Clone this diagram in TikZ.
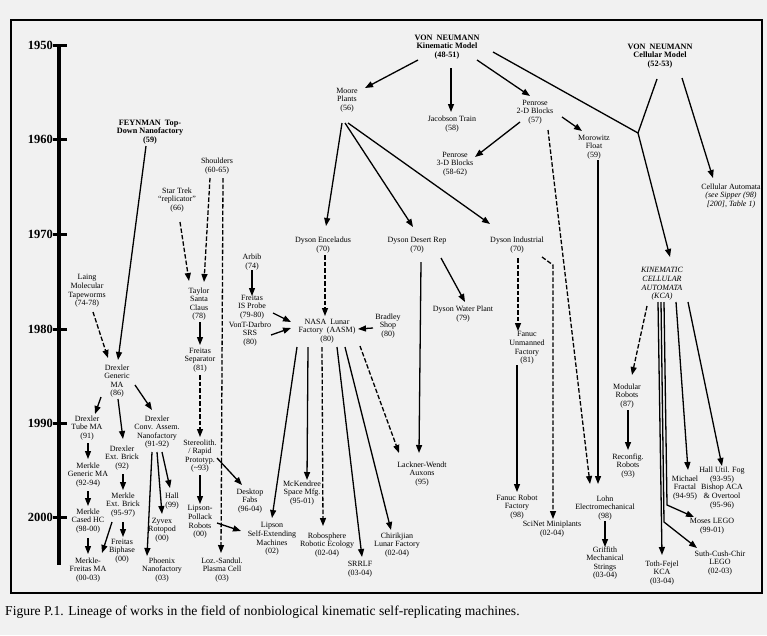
\documentclass[tikz,border=0pt]{standalone}
\usepackage{fontspec}
\setmainfont{Liberation Serif}
\usetikzlibrary{arrows.meta}
\definecolor{bgc}{HTML}{F1F1F1}
\begin{document}
\begin{tikzpicture}[x=1pt,y=-1pt,
 lbl/.style={font=\fontsize{8}{8.6}\selectfont, align=center, inner sep=0pt},
 hdr/.style={font=\bfseries\fontsize{8.2}{8.6}\selectfont, align=center, inner sep=0pt},
 arr/.style={line width=1.3pt, -{Triangle[length=8pt,width=6pt]}},
 darr/.style={arr, dash pattern=on 4.5pt off 2pt},
 ln/.style={line width=1.3pt},
 yr/.style={font=\bfseries\fontsize{12.5}{13}\selectfont, anchor=east, inner sep=0pt},
 tick/.style={line width=3pt}]
\useasboundingbox (0,0) rectangle (767,635);
\fill[bgc] (0,0) rectangle (767,635);
\draw[line width=2pt] (11,20) rectangle (762,593);

% timeline
\coordinate (tTop) at (59,44);
\coordinate (tBot) at (59,565);
\draw[line width=3.5pt] (tTop) -- (tBot);
\foreach \yv/\lab [count=\i] in {45/1950,139/1960,234/1970,329/1980,423/1990,517/2000}{
  \node[yr] (yr\i) at (53,\yv) {\lab};
  \draw[tick] (53,\yv) -- (67,\yv);
}

% nodes
\node[hdr] (vnk) at (447,47) {VON\ \ NEUMANN\\Kinematic Model\\(48-51)};
\node[hdr] (vnc) at (660,56) {VON\ \ NEUMANN\\Cellular Model\\(52-53)};
\node[lbl] (moore) at (347,100) {Moore\\Plants\\(56)};
\node[lbl] (jac) at (452,124) {Jacobson Train\\(58)};
\node[lbl] (pen2) at (535,112) {Penrose\\2-D Blocks\\(57)};
\node[lbl] (pen3) at (455,164) {Penrose\\3-D Blocks\\(58-62)};
\node[lbl] (moro) at (594,147) {Morowitz\\Float\\(59)};
\node[lbl] (ca) at (731,196) {Cellular Automata\\\textit{(see Sipper (98)}\\\textit{[200], Table 1)}};
\node[hdr] (feyn) at (150,132) {FEYNMAN\ \ Top-\\Down Nanofactory\\(59)};
\node[lbl] (shoul) at (217,166) {Shoulders\\(60-65)};
\node[lbl] (star) at (177,200) {Star Trek\\``replicator''\\(66)};
\node[lbl] (laing) at (87,291) {Laing\\Molecular\\Tapeworms\\(74-78)};
\node[lbl] (taylor) at (199,304) {Taylor\\Santa\\Claus\\(78)};
\node[lbl] (fsep) at (200,360) {Freitas\\Separator\\(81)};
\node[lbl] (dgen) at (117,381) {Drexler\\Generic\\MA\\(86)};
\node[lbl] (arbib) at (252,262) {Arbib\\(74)};
\node[lbl] (fis) at (252,307) {Freitas\\IS Probe\\(79-80)};
\node[lbl] (vont) at (250,334) {VonT-Darbro\\SRS\\(80)};
\node[lbl] (nasa) at (327,331) {NASA\ \ Lunar\\Factory\ \ (AASM)\\(80)};
\node[lbl] (brad) at (388,326) {Bradley\\Shop\\(80)};
\node[lbl] (denc) at (323,245) {Dyson Enceladus\\(70)};
\node[lbl] (ddes) at (417,245) {Dyson Desert Rep\\(70)};
\node[lbl] (dind) at (517,245) {Dyson Industrial\\(70)};
\node[lbl] (dwat) at (463,314) {Dyson Water Plant\\(79)};
\node[lbl] (fanu) at (527,348) {Fanuc\\Unmanned\\Factory\\(81)};
\node[lbl, font=\itshape\fontsize{8}{8.6}\selectfont] (kca) at (662,284) {KINEMATIC\\CELLULAR\\AUTOMATA\\(KCA)};
\node[lbl] (modr) at (627,396) {Modular\\Robots\\(87)};
\node[lbl] (reco) at (628,466) {Reconfig.\\Robots\\(93)};
\node[lbl] (frac) at (685,488) {Michael\\Fractal\\(94-95)};
\node[lbl] (hallu) at (722,488) {Hall Util. Fog\\(93-95)\\Bishop ACA\\\& Overtool\\(95-96)};
\node[lbl] (moses) at (712,526) {Moses LEGO\\(99-01)};
\node[lbl] (suth) at (720,563) {Suth-Cush-Chir\\LEGO\\(02-03)};
\node[lbl] (toth) at (662,573) {Toth-Fejel\\KCA\\(03-04)};
\node[lbl] (grif) at (605,563) {Griffith\\Mechanical\\Strings\\(03-04)};
\node[lbl] (lohn) at (605,508) {Lohn\\Electromechanical\\(98)};
\node[lbl] (scinet) at (552,529) {SciNet Miniplants\\(02-04)};
\node[lbl] (fanr) at (517,507) {Fanuc Robot\\Factory\\(98)};
\node[lbl] (lack) at (422,474) {Lackner-Wendt\\Auxons\\(95)};
\node[lbl] (chir) at (397,545) {Chirikjian\\Lunar Factory\\(02-04)};
\node[lbl] (srrlf) at (360,569) {SRRLF\\(03-04)};
\node[lbl] (robo) at (327,545) {Robosphere\\Robotic Ecology\\(02-04)};
\node[lbl] (mck) at (302,493) {McKendree\\Space Mfg.\\(95-01)};
\node[lbl] (desk) at (250,501) {Desktop\\Fabs\\(96-04)};
\node[lbl] (lipse) at (272,539) {Lipson\\Self-Extending\\Machines\\(02)};
\node[lbl] (loz) at (222,570) {Loz.-Sandul.\\Plasma Cell\\(03)};
\node[lbl] (stereo) at (200,456) {Stereolith.\\/ Rapid\\Prototyp.\\(\textasciitilde93)};
\node[lbl] (lipp) at (200,522) {Lipson-\\Pollack\\Robots\\(00)};
\node[lbl] (hall) at (172,501) {Hall\\(99)};
\node[lbl] (zyvex) at (162,530) {Zyvex\\Rotopod\\(00)};
\node[lbl] (phoe) at (162,570) {Phoenix\\Nanofactory\\(03)};
\node[lbl] (dconv) at (157,432) {Drexler\\Conv. Assem.\\Nanofactory\\(91-92)};
\node[lbl] (dtube) at (87,428) {Drexler\\Tube MA\\(91)};
\node[lbl] (dext) at (122,458) {Drexler\\Ext. Brick\\(92)};
\node[lbl] (mgen) at (88,475) {Merkle\\Generic MA\\(92-94)};
\node[lbl] (mext) at (123,505) {Merkle\\Ext. Brick\\(95-97)};
\node[lbl] (mcase) at (88,521) {Merkle\\Cased HC\\(98-00)};
\node[lbl] (fbip) at (122,551) {Freitas\\Biphase\\(00)};
\node[lbl] (mfr) at (88,570) {Merkle-\\Freitas MA\\(00-03)};

\node[font=\fontsize{13.6}{15}\selectfont, anchor=west, inner sep=0pt] (cap) at (5,612) {Figure P.1. Lineage of works in the field of nonbiological kinematic self-replicating machines.};

% connectors
\coordinate (J) at (638,133);
\coordinate (bS) at (553,265);
\coordinate (bSu) at (664,522);
\coordinate (bMo) at (667,505);

\draw[arr] ([shift={(-29,13)}]vnk.center) -- ([shift={(18,-12)}]moore.center);
\draw[arr] ([shift={(4,21)}]vnk.center) -- ([shift={(-1,-12)}]jac.center);
\draw[arr] ([shift={(30,13)}]vnk.center) -- ([shift={(-5,-16)}]pen2.center);
\draw[ln] ([shift={(46,5)}]vnk.center) -- (J);
\draw[ln] ([shift={(-3,23)}]vnc.center) -- (J);
\draw[arr] (J) -- ([shift={(8,-27)}]kca.center);
\draw[arr] ([shift={(22,22)}]vnc.center) -- ([shift={(-18,-18)}]ca.center);

\draw[arr] ([shift={(-15,10)}]pen2.center) -- ([shift={(20,-7)}]pen3.center);
\draw[arr] ([shift={(27,5)}]pen2.center) -- ([shift={(-12,-16)}]moro.center);
\draw[darr] ([shift={(13,18)}]pen2.center) -- ([shift={(-15,-24)}]lohn.center);
\draw[arr] ([shift={(4,13)}]moro.center) -- ([shift={(-7,-24)}]lohn.center);

\draw[arr] ([shift={(-5,23)}]moore.center) -- ([shift={(3,-19)}]denc.center);
\draw[arr] ([shift={(-2,23)}]moore.center) -- ([shift={(-4,-18)}]ddes.center);
\draw[arr] ([shift={(1,23)}]moore.center) -- ([shift={(-27,-21)}]dind.center);

\draw[arr] ([shift={(24,13)}]ddes.center) -- ([shift={(2,-12)}]dwat.center);
\draw[arr] ([shift={(4,17)}]ddes.center) -- ([shift={(-3,-21)}]lack.center);
\draw[darr] ([shift={(1,13)}]dind.center) -- ([shift={(-9,-17)}]fanu.center);
\draw[darr] ([shift={(25,12)}]dind.center) -- (bS) -- ([shift={(1,-10)}]scinet.center);
\draw[arr] ([shift={(-10,17)}]fanu.center) -- ([shift={(0,-15)}]fanr.center);

\draw[darr] ([shift={(2,10)}]denc.center) -- ([shift={(-2,-15)}]nasa.center);
\draw[arr] ([shift={(0,8)}]arbib.center) -- ([shift={(0,-11)}]fis.center);
\draw[arr] ([shift={(21,6)}]fis.center) -- ([shift={(-36,-9)}]nasa.center);
\draw[arr] ([shift={(21,1)}]vont.center) -- ([shift={(-36,-3)}]nasa.center);
\draw[arr] ([shift={(-15,2)}]brad.center) -- ([shift={(31,-2)}]nasa.center);

\draw[arr] ([shift={(-30,16)}]nasa.center) -- ([shift={(0,-21)}]lipse.center);
\draw[arr] ([shift={(-19,16)}]nasa.center) -- ([shift={(5,-13)}]mck.center);
\draw[darr] ([shift={(-5,16)}]nasa.center) -- ([shift={(-4,-19)}]robo.center);
\draw[arr] ([shift={(10,16)}]nasa.center) -- ([shift={(2,-12)}]srrlf.center);
\draw[arr] ([shift={(18,16)}]nasa.center) -- ([shift={(-6,-15)}]chir.center);
\draw[darr] ([shift={(33,15)}]nasa.center) -- ([shift={(-23,-21)}]lack.center);

\draw[darr] ([shift={(-7,12)}]shoul.center) -- ([shift={(5,-22)}]taylor.center);
\draw[darr] ([shift={(6,12)}]shoul.center) -- ([shift={(-1,-17)}]loz.center);
\draw[darr] ([shift={(3,22)}]star.center) -- ([shift={(-10,-23)}]taylor.center);
\draw[arr] ([shift={(1,18)}]taylor.center) -- ([shift={(0,-15)}]fsep.center);
\draw[darr] ([shift={(0,15)}]fsep.center) -- ([shift={(0,-19)}]stereo.center);
\draw[arr] ([shift={(0,19)}]stereo.center) -- ([shift={(0,-18)}]lipp.center);
\draw[arr] ([shift={(17,2)}]stereo.center) -- ([shift={(-8,-16)}]desk.center);
\draw[arr] ([shift={(17,1)}]lipp.center) -- ([shift={(-31,-8)}]lipse.center);

\draw[arr] ([shift={(-4,14)}]feyn.center) -- ([shift={(1,-21)}]dgen.center);
\draw[darr] ([shift={(6,21)}]laing.center) -- ([shift={(-9,-23)}]dgen.center);
\draw[arr] ([shift={(-16,16)}]dgen.center) -- ([shift={(8,-14)}]dtube.center);
\draw[arr] ([shift={(18,4)}]dgen.center) -- ([shift={(-5,-22)}]dconv.center);
\draw[arr] ([shift={(1,18)}]dgen.center) -- ([shift={(1,-19)}]dext.center);
\draw[arr] ([shift={(1,15)}]dtube.center) -- ([shift={(0,-16)}]mgen.center);
\draw[arr] ([shift={(0,16)}]mgen.center) -- ([shift={(0,-15)}]mcase.center);
\draw[arr] ([shift={(0,17)}]mcase.center) -- ([shift={(0,-16)}]mfr.center);
\draw[arr] ([shift={(1,16)}]dext.center) -- ([shift={(0,-15)}]mext.center);
\draw[arr] ([shift={(0,17)}]mext.center) -- ([shift={(1,-14)}]fbip.center);
\draw[arr] ([shift={(-11,17)}]mext.center) -- ([shift={(14,-17)}]mfr.center);
\draw[arr] ([shift={(5,20)}]dconv.center) -- ([shift={(-2,-13)}]hall.center);
\draw[arr] ([shift={(0,20)}]dconv.center) -- ([shift={(0,-16)}]zyvex.center);
\draw[arr] ([shift={(-5,20)}]dconv.center) -- ([shift={(-15,-14)}]phoe.center);

\draw[darr] ([shift={(-15,22)}]kca.center) -- ([shift={(5,-21)}]modr.center);
\draw[arr] ([shift={(1,14)}]modr.center) -- ([shift={(0,-16)}]reco.center);
\draw[arr] ([shift={(-4,18)}]kca.center) -- ([shift={(0,-18)}]toth.center);
\draw[arr] ([shift={(-1,18)}]kca.center) -- (bSu) -- ([shift={(-23,-15)}]suth.center);
\draw[arr] ([shift={(2,18)}]kca.center) -- (bMo) -- ([shift={(-18,-9)}]moses.center);
\draw[arr] ([shift={(14,18)}]kca.center) -- ([shift={(3,-18)}]frac.center);
\draw[arr] ([shift={(26,18)}]kca.center) -- ([shift={(0,-22)}]hallu.center);
\draw[arr] ([shift={(0,13)}]lohn.center) -- ([shift={(0,-16)}]grif.center);
\end{tikzpicture}
\end{document}
